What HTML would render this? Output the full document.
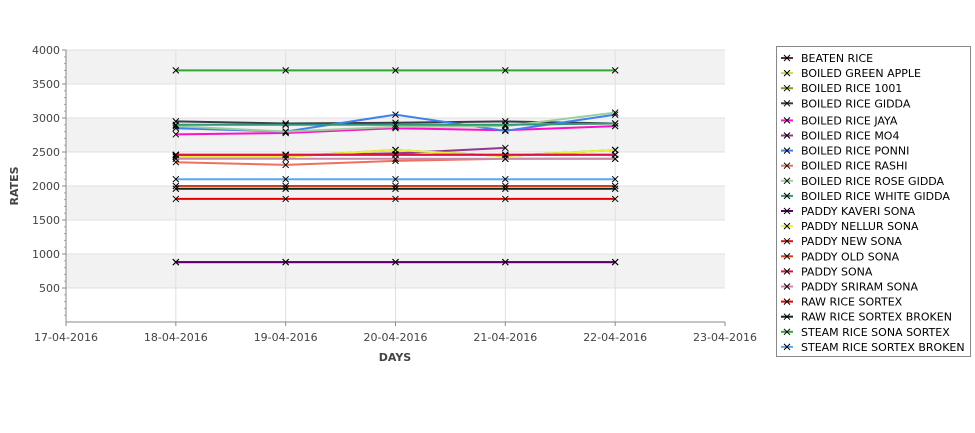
<!DOCTYPE html>
<html><head><meta charset="utf-8"><style>
body{margin:0;background:#fff;font-family:"DejaVu Sans","Liberation Sans",sans-serif}
svg text{font-family:"DejaVu Sans","Liberation Sans",sans-serif}
</style></head><body>
<svg id="chart" width="975" height="429">
<g id="grid"></g><g id="axes"></g><g id="series"></g><g id="legend"></g>
</svg>
<script>
const categories=["18-04-2016","19-04-2016","20-04-2016","21-04-2016","22-04-2016"];
const xTicks=["17-04-2016","18-04-2016","19-04-2016","20-04-2016","21-04-2016","22-04-2016","23-04-2016"];
const yTicks=[500,1000,1500,2000,2500,3000,3500,4000];
const seriesNames=["BEATEN RICE","BOILED GREEN APPLE","BOILED RICE 1001","BOILED RICE GIDDA","BOILED RICE JAYA","BOILED RICE MO4","BOILED RICE PONNI","BOILED RICE RASHI","BOILED RICE ROSE GIDDA","BOILED RICE WHITE GIDDA","PADDY KAVERI SONA","PADDY NELLUR SONA","PADDY NEW SONA","PADDY OLD SONA","PADDY SONA","PADDY SRIRAM SONA","RAW RICE SORTEX","RAW RICE SORTEX BROKEN","STEAM RICE SONA SORTEX","STEAM RICE SORTEX BROKEN"];
const seriesColors=["#5a2a4a","#c8e040","#8a9a18","#3a3a48","#ff10c8","#903890","#4080f0","#f07060","#98d098","#309878","#600070","#e8f040","#e01010","#d04020","#e01040","#c888a8","#e80000","#102818","#30a830","#58a8f0"];
const seriesValues=[
[880,880,880,880,880],
[2430,2430,2530,2440,2530],
[2430,2430,2530,2440,2530],
[2950,2920,2930,2950,2920],
[2760,2780,2850,2820,2880],
[2450,2450,2480,2560,null],
[2850,2800,3050,2810,3050],
[2350,2310,2370,2400,2400],
[2880,2800,2870,2880,3080],
[2900,2900,2900,2900,2920],
[880,880,880,880,880],
[2430,2430,2530,2440,2530],
[2460,2460,2460,2460,2460],
[2000,2000,2000,2000,2000],
[2460,2460,2460,2460,2460],
[2400,2400,2400,2400,2400],
[1810,1810,1810,1810,1810],
[1960,1960,1960,1960,1960],
[3700,3700,3700,3700,3700],
[2100,2100,2100,2100,2100]];
const NS="http://www.w3.org/2000/svg";
const L=66,R=725,T=50,B=322,yMax=4000,yMin=0;
function xPos(i){return L+(i+1)*(R-L)/(xTicks.length-1);}
function xTickPos(i){return L+i*(R-L)/(xTicks.length-1);}
function yPos(v){return B-(v-yMin)/(yMax-yMin)*(B-T);}
function mk(tag,attrs,parent){const e=document.createElementNS(NS,tag);for(const k in attrs)e.setAttribute(k,attrs[k]);parent.appendChild(e);return e;}
const grid=document.getElementById('grid'),axes=document.getElementById('axes'),ser=document.getElementById('series'),leg=document.getElementById('legend');
const bg=mk('rect',{x:L,y:T,width:R-L,height:B-T,fill:'#fff'},grid);


for(let v=500;v<yMax;v+=1000){const b=mk('rect',{x:L,y:yPos(v+500),width:R-L,height:yPos(v)-yPos(v+500),fill:'#f2f2f2'},grid);

}
yTicks.forEach(v=>{const y=yPos(v);
const g=mk('line',{x1:L,x2:R,y1:y,y2:y,stroke:'#e0e0e0'},grid);


mk('line',{x1:L-4,x2:L,y1:y,y2:y,stroke:'#888'},axes);
const t=mk('text',{x:L-6,y:y+4,'text-anchor':'end','font-size':11,fill:'#444'},axes);t.textContent=v;

});
for(let v=100;v<yMax;v+=100){if(v%500)mk('line',{x1:L-2,x2:L,y1:yPos(v),y2:yPos(v),stroke:'#aaa'},axes);}
xTicks.forEach((s,i)=>{const x=xTickPos(i);
if(i>0&&i<xTicks.length-1){const g=mk('line',{x1:x,x2:x,y1:T,y2:B,stroke:'#e0e0e0'},grid);

}
mk('line',{x1:x,x2:x,y1:B,y2:B+4,stroke:'#888'},axes);
const t=mk('text',{x:x,y:341,'text-anchor':'middle','font-size':11,fill:'#444'},axes);t.textContent=s;

});
mk('line',{x1:L,x2:L,y1:T,y2:B,stroke:'#888'},axes);
mk('line',{x1:L,x2:R,y1:B,y2:B,stroke:'#888'},axes);
const xt=mk('text',{x:395,y:361,'text-anchor':'middle','font-size':11,'font-weight':'bold',fill:'#444'},axes);xt.textContent='DAYS';


const yt=mk('text',{x:18,y:186,'text-anchor':'middle','font-size':11,'font-weight':'bold',fill:'#444',transform:'rotate(-90 18 186)'},axes);yt.textContent='RATES';


function cross(x,y,p){mk('path',{d:`M${x-3} ${y-3}L${x+3} ${y+3}M${x-3} ${y+3}L${x+3} ${y-3}`,stroke:'#000','stroke-width':1},p);}
seriesValues.forEach((vals,si)=>{const g=mk('g',{},ser);


const pts=[];vals.forEach((v,i)=>{if(v!=null)pts.push([xPos(i),yPos(v)]);});
const pl=mk('polyline',{points:pts.map(p=>p.join(',')).join(' '),fill:'none',stroke:seriesColors[si],'stroke-width':2},g);


pts.forEach(p=>cross(p[0],p[1],g));});
const lb=mk('rect',{x:776.5,y:46.5,width:194,height:310,fill:'#fff',stroke:'#888'},leg);


seriesNames.forEach((n,i)=>{const y=58+i*15.1+(i>=4?2:0);const g=mk('g',{},leg);


mk('line',{x1:781,x2:793,y1:y,y2:y,stroke:seriesColors[i],'stroke-width':2},g);
cross(787,y,g);
const t=mk('text',{x:801,y:y+4,'font-size':11,fill:'#000'},g);t.textContent=n;});
</script>
</body></html>
